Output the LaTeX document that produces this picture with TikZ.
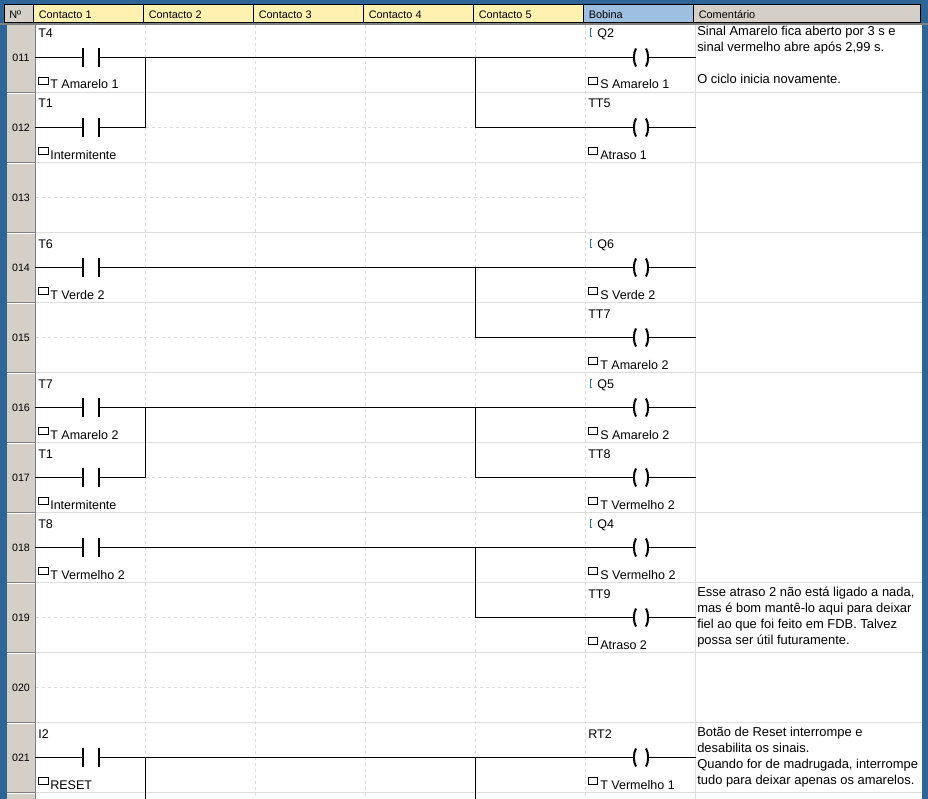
\documentclass[tikz,border=0pt]{standalone}
\usepackage{fontspec}
\setmainfont{Liberation Sans}
\definecolor{winblue}{HTML}{2F6497}
\definecolor{panel}{HTML}{D4D0C8}
\definecolor{hyellow}{HTML}{FFF2B0}
\definecolor{hblue}{HTML}{9FBFE0}
\definecolor{gridc}{HTML}{DCDCDC}
\definecolor{tagblue}{HTML}{1F6FB5}
\tikzset{
  x=0.75pt,y=-0.75pt,
  gridline/.style={gridc,line width=0.75pt},
  griddash/.style={gridc,line width=0.75pt,dash pattern=on 2.25pt off 2.25pt},
  wire/.style={black,line width=0.75pt},
  symb/.style={black,line width=1.5pt},
  lab/.style={anchor=base west,inner sep=0pt,font=\fontsize{9.4}{11}\selectfont},
  note/.style={anchor=base west,inner sep=0pt,font=\fontsize{9.7}{11}\selectfont},
  head/.style={anchor=base west,inner sep=0pt,font=\fontsize{8.2}{10}\selectfont},
  num/.style={anchor=center,inner sep=0pt,font=\fontsize{8}{10}\selectfont},
  hcell/.style={draw=black,line width=0.75pt},
  symbol/.style={inner sep=0pt,minimum height=13.5pt},
  tagbox/.style={draw=black,line width=0.75pt,fill=white}
}
% contact: id, y, top label, bottom label
\newcommand{\ctc}[4]{%
  \coordinate (L#1) at (35,#2+.5);
  \node[symbol,minimum width=11.6pt] (C#1) at (90.5,#2+.5) {};
  \draw[symb] (C#1.north west) -- (C#1.south west) (C#1.north east) -- (C#1.south east);
  \draw[wire] (L#1) -- (C#1.west);
  \node[lab] (CT#1) at (38,#2-19) {#3};
  \draw[tagbox] (38.5,#2+20.5) rectangle (48.5,#2+27.5);
  \node[lab] (CB#1) at (50,#2+32) {#4};
}
% coil: id, y, top label, label x, bottom label
\newcommand{\coil}[5]{%
  \coordinate (R#1) at (696,#2+.5);
  \node[symbol,minimum width=12pt] (K#1) at (641,#2+.5) {};
  \draw[symb] (636,#2-8.5) .. controls (633.2,#2-4) and (633.2,#2+5) .. (636,#2+9.5)
              (646,#2-8.5) .. controls (648.8,#2-4) and (648.8,#2+5) .. (646,#2+9.5);
  \draw[wire] (K#1.east) -- (R#1);
  \node[lab] (KT#1) at (#4,#2-19) {#3};
  \draw[tagbox] (588.5,#2+20.5) rectangle (597.5,#2+27.5);
  \node[lab] (KB#1) at (600,#2+32) {#5};
}
\newcommand{\qtag}[1]{\draw[tagblue,line width=0.75pt] (592,#1-28) -- (590.5,#1-28) -- (590.5,#1-20) -- (592,#1-20);}
\begin{document}
\begin{tikzpicture}
\useasboundingbox (0,0) rectangle (928,799);
\clip (0,0) rectangle (928,799);
\fill[winblue] (0,0) rectangle (928,799);
\fill[white] (35,25) rectangle (922,799);
\fill[panel] (7,25) rectangle (35,799);
\draw[gray,line width=0.75pt] (35.5,25) -- (35.5,799);
% number cell separators
\foreach \yy in {92,162,232,302,372,442,512,582,652,722,792}{
  \draw[gray,line width=0.75pt] (7,\yy+.5) -- (35,\yy+.5);
  \draw[white,line width=0.75pt] (7,\yy+1.5) -- (35,\yy+1.5);
  \draw[gridline] (36,\yy+.5) -- (922,\yy+.5);
}
% grid
\foreach \xx in {145,255,365,475,585}{
  \draw[griddash] (\xx+.5,25) -- (\xx+.5,799);
}
\draw[gridline] (695.5,25) -- (695.5,799);
% rung placeholders
\draw[griddash] (146,127.5) -- (475,127.5);
\draw[griddash] (36,197.5) -- (585,197.5);
\draw[griddash] (36,337.5) -- (475,337.5);
\draw[griddash] (146,477.5) -- (475,477.5);
\draw[griddash] (36,617.5) -- (475,617.5);
\draw[griddash] (36,687.5) -- (585,687.5);
% header
\fill[gray] (0,23) rectangle (928,25);
\draw[hcell,fill=panel] (4.5,4.5) rectangle (33.5,23);
\foreach \xa/\xb/\tt/\nm in {33.5/143.5/Contacto 1/h1,143.5/253.5/Contacto 2/h2,253.5/363.5/Contacto 3/h3,363.5/473.5/Contacto 4/h4,473.5/583.5/Contacto 5/h5}{
  \draw[hcell,fill=hyellow] (\xa,4.5) rectangle (\xb,23);
  \node[head] (\nm) at (\xa+5,19) {\tt};
}
\draw[hcell,fill=hblue] (583.5,4.5) rectangle (693.5,23);
\node[head] (h6) at (588.5,19) {Bobina};
\draw[hcell,fill=panel] (693.5,4.5) rectangle (920.5,23);
\node[head] (h7) at (698.5,19) {Comentário};
\node[head] (h0) at (9,19) {Nº};
% row numbers
\foreach \yy/\nn in {58/011,128/012,198/013,268/014,338/015,408/016,478/017,548/018,618/019,688/020,758/021}{
  \node[num] (n\nn) at (21,\yy) {\nn};
}
% rungs
\ctc{11}{57}{T4}{T Amarelo 1}
\coil{11}{57}{Q2}{597}{S Amarelo 1}\qtag{57}
\ctc{12}{127}{T1}{Intermitente}
\coil{12}{127}{TT5}{588}{Atraso 1}
\coordinate (A11) at (145.5,57.5);
\coordinate (A12) at (145.5,127.5);
\coordinate (B11) at (475.5,57.5);
\coordinate (B12) at (475.5,127.5);
\draw[wire] (C11.east) -- (K11.west);
\draw[wire] (C12.east) -- (A12) -- (A11);
\draw[wire] (B11) -- (B12) -- (K12.west);

\ctc{14}{267}{T6}{T Verde 2}
\coil{14}{267}{Q6}{597}{S Verde 2}\qtag{267}
\coil{15}{337}{TT7}{588}{T Amarelo 2}
\coordinate (B14) at (475.5,267.5);
\coordinate (B15) at (475.5,337.5);
\draw[wire] (C14.east) -- (K14.west);
\draw[wire] (B14) -- (B15) -- (K15.west);

\ctc{16}{407}{T7}{T Amarelo 2}
\coil{16}{407}{Q5}{597}{S Amarelo 2}\qtag{407}
\ctc{17}{477}{T1}{Intermitente}
\coil{17}{477}{TT8}{588}{T Vermelho 2}
\coordinate (A16) at (145.5,407.5);
\coordinate (A17) at (145.5,477.5);
\coordinate (B16) at (475.5,407.5);
\coordinate (B17) at (475.5,477.5);
\draw[wire] (C16.east) -- (K16.west);
\draw[wire] (C17.east) -- (A17) -- (A16);
\draw[wire] (B16) -- (B17) -- (K17.west);

\ctc{18}{547}{T8}{T Vermelho 2}
\coil{18}{547}{Q4}{597}{S Vermelho 2}\qtag{547}
\coil{19}{617}{TT9}{588}{Atraso 2}
\coordinate (B18) at (475.5,547.5);
\coordinate (B19) at (475.5,617.5);
\draw[wire] (C18.east) -- (K18.west);
\draw[wire] (B18) -- (B19) -- (K19.west);

\ctc{21}{757}{I2}{RESET}
\coil{21}{757}{RT2}{588}{T Vermelho 1}
\coordinate (A21) at (145.5,757.5);
\coordinate (A22) at (145.5,799);
\coordinate (B21) at (475.5,757.5);
\coordinate (B22) at (475.5,799);
\draw[wire] (C21.east) -- (K21.west);
\draw[wire] (A21) -- (A22);
\draw[wire] (B21) -- (B22);
% comments
\node[note] (t1) at (697,36) {Sinal Amarelo fica aberto por 3 s e};
\node[note] (t2) at (697,52) {sinal vermelho abre após 2,99 s.};
\node[note] (t3) at (697,84) {O ciclo inicia novamente.};
\node[note] (t4) at (697,596) {Esse atraso 2 não está ligado a nada,};
\node[note] (t5) at (697,612) {mas é bom mantê-lo aqui para deixar};
\node[note] (t6) at (697,628) {fiel ao que foi feito em FDB. Talvez};
\node[note] (t7) at (697,644) {possa ser útil futuramente.};
\node[note] (t8) at (697,736) {Botão de Reset interrompe e};
\node[note] (t9) at (697,752) {desabilita os sinais.};
\node[note] (t10) at (697,768) {Quando for de madrugada, interrompe};
\node[note] (t11) at (697,784) {tudo para deixar apenas os amarelos.};
\end{tikzpicture}
\end{document}
